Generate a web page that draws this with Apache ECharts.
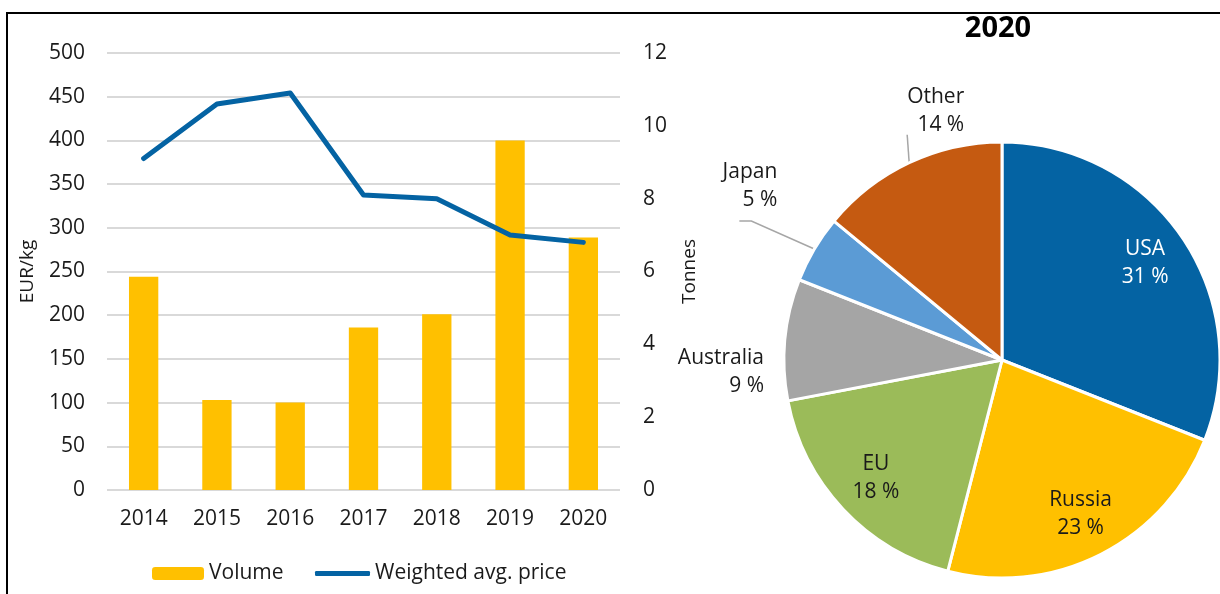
<!DOCTYPE html>
<html>
<head>
<meta charset="utf-8">
<script src="https://cdn.jsdelivr.net/npm/echarts@6/dist/echarts.min.js"></script>
<style>
html, body { margin: 0; padding: 0; background: #fff; }
#main { width: 1220px; height: 594px; }
</style>
</head>
<body>
<div id="main"></div>
<script>
var years = ['2014', '2015', '2016', '2017', '2018', '2019', '2020'];
var volume = [244, 103, 100, 186, 201, 400, 289];
var avgPrice = [9.1, 10.6, 10.9, 8.1, 8.0, 7.0, 6.8];

var origins = ['USA', 'Russia', 'EU', 'Australia', 'Japan', 'Other'];
var originShare = [31, 23, 18, 9, 5, 14];
var originColors = ['#0463a3', '#ffc000', '#9bbb59', '#a5a5a5', '#5b9bd5', '#c55a11'];
var insideLabels = ['USA', 'Russia', 'EU'];

// nudges for the outside pie labels (excel puts them a bit differently)
var labelNudge = {
    'Australia': [22, 34],
    'Japan': [4, -56],
    'Other': [90, -39]
};
// leader line bends, relative to where the line leaves the slice
var leaderBends = {
    'Japan': [[-63, -28], [-75, -28]],
    'Other': [[-1, -14], [-2, -28]]
};

var font = '"Open Sans", "Noto Sans", sans-serif';
var textColor = '#1a1a1a';

var myChart = echarts.init(document.getElementById('main'));

function pieLabel(p) {
    return p.name + '\n' + p.value + ' %';
}

// slices, labels outside for the small ones
var pieData = origins.map(function (name, i) {
    var inside = insideLabels.indexOf(name) >= 0;
    return {
        name: name,
        value: originShare[i],
        itemStyle: { color: originColors[i] },
        label: { show: !inside },
        labelLine: { show: name !== 'Australia' && !inside }
    };
});
// same values, invisible ring, only used to place the inner labels further out
var labelRingData = origins.map(function (name, i) {
    var inside = insideLabels.indexOf(name) >= 0;
    return {
        name: name,
        value: originShare[i],
        label: { show: inside, color: name === 'USA' ? '#ffffff' : textColor }
    };
});

option = {
    animation: false,
    textStyle: { fontFamily: font },
    title: {
        text: '2020',
        left: 993,
        top: 9,
        textAlign: 'center',
        textStyle: { fontFamily: font, fontSize: 29, fontWeight: 'bold', color: '#000' }
    },
    graphic: [{
        type: 'rect',
        shape: { x: 7, y: 13, width: 1400, height: 800 },
        style: { fill: 'none', stroke: '#000', lineWidth: 2 },
        silent: true
    }],
    legend: [
        {
            data: ['Volume'],
            left: 147,
            top: 558,
            itemWidth: 52,
            itemHeight: 13,
            itemGap: 5,
            textStyle: { fontFamily: font, fontSize: 21, color: textColor }
        },
        {
            data: [{ name: 'Weighted avg. price', icon: 'roundRect' }],
            left: 310,
            top: 558,
            itemWidth: 55,
            itemHeight: 5,
            textStyle: { fontFamily: font, fontSize: 21, color: textColor }
        }
    ],
    grid: {
        left: 107,
        right: 600,
        top: 53,
        bottom: 104
    },
    xAxis: {
        type: 'category',
        data: years,
        axisTick: { show: false },
        axisLine: { show: false },
        axisLabel: { fontSize: 21, color: textColor, margin: 19 }
    },
    yAxis: [
        {
            type: 'value',
            min: 0,
            max: 500,
            interval: 50,
            name: 'EUR/kg',
            nameLocation: 'middle',
            nameGap: 70,
            nameTextStyle: { fontSize: 19, color: textColor },
            axisLine: { show: false },
            axisTick: { show: false },
            axisLabel: { fontSize: 21, color: textColor, margin: 22 },
            splitLine: { lineStyle: { color: '#d9d9d9', width: 2 } }
        },
        {
            type: 'value',
            min: 0,
            max: 12,
            interval: 2,
            name: 'Tonnes',
            nameLocation: 'middle',
            nameGap: 60,
            nameRotate: 90,
            nameTextStyle: { fontSize: 19, color: textColor },
            axisLine: { show: false },
            axisTick: { show: false },
            axisLabel: { fontSize: 21, color: textColor, margin: 23 },
            splitLine: { show: false }
        }
    ],
    series: [
        {
            name: 'Volume',
            type: 'bar',
            barWidth: '40%',
            itemStyle: { color: '#ffc000' },
            data: volume
        },
        {
            name: 'Weighted avg. price',
            type: 'line',
            yAxisIndex: 1,
            symbol: 'none',
            lineStyle: { color: '#0463a3', width: 5, cap: 'round', join: 'round' },
            itemStyle: { color: '#0463a3' },
            data: avgPrice
        },
        {
            name: 'origin',
            type: 'pie',
            center: [1002, 360],
            radius: [0, 218],
            startAngle: 90,
            clockwise: true,
            itemStyle: { borderColor: '#ffffff', borderWidth: 3 },
            label: {
                position: 'outside',
                formatter: pieLabel,
                fontSize: 21,
                lineHeight: 28,
                align: 'center',
                color: textColor
            },
            labelLine: {
                length: 14,
                length2: 24,
                lineStyle: { color: '#a6a6a6', width: 1.5 }
            },
            labelLayout: function (p) {
                var name = origins[p.dataIndex];
                var n = labelNudge[name];
                if (!n) return {};
                var out = { dx: n[0], dy: n[1] };
                var bends = leaderBends[name];
                if (bends && p.labelLinePoints) {
                    var s = p.labelLinePoints[0];
                    out.labelLinePoints = [s.slice()].concat(bends.map(function (b) {
                        return [s[0] + b[0], s[1] + b[1]];
                    }));
                }
                return out;
            },
            emphasis: { disabled: true },
            data: pieData
        },
        {
            name: 'originLabels',
            type: 'pie',
            center: [1002, 360],
            radius: [124, 216],
            startAngle: 90,
            clockwise: true,
            silent: true,
            itemStyle: { color: 'rgba(0,0,0,0)', borderWidth: 0 },
            label: {
                position: 'inside',
                formatter: pieLabel,
                fontSize: 21,
                lineHeight: 28
            },
            labelLine: { show: false },
            emphasis: { disabled: true },
            data: labelRingData
        }
    ]
};
myChart.setOption(option);
</script>
</body>
</html>
